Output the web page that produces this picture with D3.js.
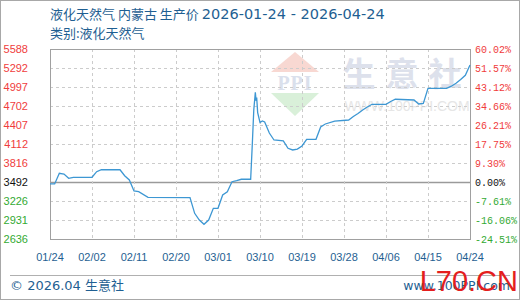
<!DOCTYPE html>
<html>
<head>
<meta charset="utf-8">
<script src="https://cdn.jsdelivr.net/npm/d3@7"></script>
<style>
html,body{margin:0;padding:0;background:#fff;}
svg{display:block;}
</style>
</head>
<body>
<svg id="chart" width="520" height="300"></svg>
<script>
const titleCjk = "液化天然气 内蒙古 生产价 ";
const titleDates = "2026-01-24 - 2026-04-24";
const subtitleText = "类别:液化天然气";
const baseValue = 3492;
const yTickValues = [2636, 2931, 3226, 3492, 3816, 4112, 4407, 4702, 4997, 5292, 5588];
const yPctLabels = ["-24.51%", "-16.06%", "-7.61%", "0.00%", "9.30%", "17.75%", "26.21%", "34.66%", "43.12%", "51.57%", "60.02%"];
const xTickLabels = ["01/24", "02/02", "02/11", "02/20", "03/01", "03/10", "03/19", "03/28", "04/06", "04/15", "04/24"];
const xTickDates = ["2026-01-24", "2026-02-02", "2026-02-11", "2026-02-20", "2026-03-01", "2026-03-10", "2026-03-19", "2026-03-28", "2026-04-06", "2026-04-15", "2026-04-24"];

const dates = [
  "2026-01-24", "2026-01-25", "2026-01-26", "2026-01-27", "2026-01-28", "2026-01-29",
  "2026-02-02", "2026-02-03", "2026-02-04", "2026-02-08", "2026-02-09", "2026-02-10",
  "2026-02-11", "2026-02-12", "2026-02-14", "2026-02-23", "2026-02-24", "2026-02-25",
  "2026-02-26", "2026-02-27", "2026-02-28", "2026-03-01", "2026-03-02", "2026-03-03",
  "2026-03-04", "2026-03-05", "2026-03-06", "2026-03-08",
  "2026-03-08T08:00", "2026-03-08T16:00", "2026-03-09T00:00", "2026-03-09T04:00",
  "2026-03-09T07:00", "2026-03-09T12:00", "2026-03-10", "2026-03-10T12:00", "2026-03-11",
  "2026-03-12", "2026-03-13", "2026-03-15", "2026-03-16", "2026-03-17", "2026-03-18",
  "2026-03-19", "2026-03-20", "2026-03-22", "2026-03-23", "2026-03-24", "2026-03-26",
  "2026-03-29", "2026-03-30", "2026-03-31", "2026-04-01", "2026-04-02", "2026-04-03",
  "2026-04-06", "2026-04-07", "2026-04-08", "2026-04-12", "2026-04-13", "2026-04-14",
  "2026-04-15", "2026-04-19", "2026-04-20", "2026-04-21", "2026-04-22", "2026-04-23",
  "2026-04-24"
];
const prices = [
  3492, 3492, 3657, 3646, 3579, 3595,
  3595, 3682, 3715, 3712, 3619, 3553,
  3382, 3371, 3284, 3278, 3035, 2931,
  2864, 2931, 3113, 3113, 3320, 3371,
  3526, 3542, 3564, 3564,
  4080, 4640, 4915, 4780,
  4832, 4600, 4446, 4470, 4455,
  4283, 4174, 4159, 4045, 4019, 4034,
  4081, 4185, 4185, 4376, 4423, 4469,
  4485, 4539, 4586, 4640, 4687, 4729,
  4729, 4773, 4807, 4796, 4734, 4744,
  4977, 4977, 5010, 5055, 5113, 5180,
  5339
];

const W = 520, H = 300;
const pLeft = 50, pRight = 470, pTop = 49, pBottom = 239;
const parse = s => new Date(s.length > 10 ? s : s + "T00:00");
const svg = d3.select("#chart");
const blue = "#1f5f92";

// outer frame
svg.append("rect").attr("x", 0.5).attr("y", 0.5).attr("width", W - 1).attr("height", H - 1)
  .attr("fill", "#fff").attr("stroke", "#a8a8a8");

const x = d3.scaleTime().domain([parse(xTickDates[0]), parse(xTickDates[xTickDates.length - 1])]).range([pLeft, pRight]);
const y = d3.scaleLinear().domain([yTickValues[0], yTickValues[yTickValues.length - 1]]).range([pBottom, pTop]);
const yIdx = d3.scaleLinear().domain([0, yTickValues.length - 1]).range([pBottom, pTop]);

// watermark
const wm = svg.append("g");
wm.append("path").attr("d", "M295,52 L319,72 L271,72 Z").attr("fill", "#f8d8d2");
wm.append("text").attr("x", 295).attr("y", 90).attr("text-anchor", "middle")
  .attr("font-family", "Liberation Serif, serif").attr("font-weight", "bold").attr("font-size", 20)
  .attr("fill", "#dae0ec").attr("letter-spacing", 1).text("PPI");
wm.append("path").attr("d", "M271,93 L319,93 L295,116 Z").attr("fill", "#d9f0d9");
wm.append("text").attr("x", 407).attr("y", 86).attr("text-anchor", "middle")
  .attr("font-family", "Noto Sans CJK SC").attr("font-weight", "bold").attr("font-size", 33)
  .attr("fill", "#dde1ec").attr("letter-spacing", 10).text("生意社");
wm.append("text").attr("x", 407).attr("y", 111).attr("text-anchor", "middle")
  .attr("font-family", "Liberation Sans").attr("font-size", 14)
  .attr("fill", "#e6e6e6").text("WWW.100PPI.COM");

// grid horizontal
const grid = svg.append("g");
yTickValues.forEach((v, i) => {
  if (i === 0 || i === yTickValues.length - 1) return;
  const yy = Math.round(yIdx(i)) + 0.5;
  grid.append("line").attr("x1", pLeft).attr("x2", pRight).attr("y1", yy).attr("y2", yy)
    .attr("stroke", v === baseValue ? "#9a9a9a" : "#cccccc")
    .attr("stroke-width", v === baseValue ? 1.5 : 1)
    .attr("stroke-dasharray", v === baseValue ? null : "3,3");
});
// grid vertical
xTickDates.forEach((d, i) => {
  if (i === 0 || i === xTickDates.length - 1) return;
  const xx = Math.round(x(parse(d))) + 0.5;
  grid.append("line").attr("x1", xx).attr("x2", xx).attr("y1", pTop).attr("y2", pBottom)
    .attr("stroke", "#cccccc").attr("stroke-dasharray", "3,3");
});
// plot border
svg.append("rect").attr("x", pLeft + 0.5).attr("y", pTop + 0.5).attr("width", pRight - pLeft).attr("height", pBottom - pTop)
  .attr("fill", "none").attr("stroke", "#a0a0a0");

// line
const data = dates.map((d, i) => ({ d: parse(d), v: prices[i] }));
svg.append("path").datum(data)
  .attr("d", d3.line().x(p => x(p.d)).y(p => y(p.v)))
  .attr("fill", "none").attr("stroke", "#3d97d3").attr("stroke-width", 1.3);

// y labels
const colorFor = v => v > baseValue ? "#f03c3c" : (v < baseValue ? "#33aa33" : "#111111");
yTickValues.forEach((v, i) => {
  const yy = yIdx(i);
  svg.append("text").attr("x", 28).attr("y", yy + 4).attr("text-anchor", "end")
    .attr("font-family", "Liberation Sans, Arial").attr("font-size", 11)
    .attr("fill", colorFor(v)).text(v);
  svg.append("text").attr("x", 475).attr("y", yy + 4).attr("text-anchor", "start")
    .attr("font-family", "Liberation Mono, monospace").attr("font-size", 10)
    .attr("fill", colorFor(v)).text(yPctLabels[i]);
});

// x labels
xTickDates.forEach((d, i) => {
  svg.append("text").attr("x", x(parse(d))).attr("y", 261).attr("text-anchor", "middle")
    .attr("font-family", "Liberation Sans, Arial").attr("font-size", 11)
    .attr("fill", blue).text(xTickLabels[i]);
});

// titles
const t = svg.append("text").attr("x", 50).attr("y", 19).attr("fill", blue);
t.append("tspan").attr("font-family", "Noto Sans CJK SC").attr("font-size", 13).text(titleCjk);
t.append("tspan").attr("font-family", "DejaVu Sans").attr("font-size", 14.5).text(titleDates);
svg.append("text").attr("x", 50).attr("y", 38)
  .attr("font-family", "Noto Sans CJK SC").attr("font-size", 13)
  .attr("fill", blue).text(subtitleText);

// footer
svg.append("line").attr("x1", 10).attr("x2", 510).attr("y1", 275.5).attr("y2", 275.5).attr("stroke", "#b0b0b0");
svg.append("text").attr("x", 10).attr("y", 290)
  .attr("font-family", "DejaVu Sans, Noto Sans CJK SC").attr("font-size", 13)
  .attr("fill", blue).text("© 2026.04 生意社");
svg.append("text").attr("x", 510).attr("y", 290).attr("text-anchor", "end")
  .attr("font-family", "DejaVu Sans, Arial").attr("font-size", 12.5)
  .attr("fill", blue).text("www.100PPI.com");
svg.append("text").attr("x", 518).attr("y", 291).attr("text-anchor", "end")
  .attr("font-family", "Liberation Sans, Arial").attr("font-size", 29)
  .attr("fill", "#e41e1e").text("L70.CN");
</script>
</body>
</html>
